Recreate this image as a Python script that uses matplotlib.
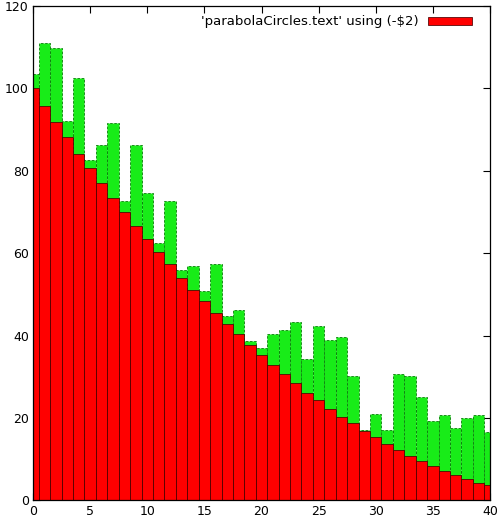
import numpy as np
import matplotlib
matplotlib.use("Agg")
import matplotlib.pyplot as plt

# values
positions = list(range(41))
red_vals = [100.0, 95.8, 91.8, 88.1, 84.2, 80.7, 77.0, 73.4, 70.1, 66.7,
            63.5, 60.2, 57.5, 54.1, 51.2, 48.3, 45.5, 42.8, 40.4, 37.8,
            35.3, 33.0, 30.7, 28.4, 26.2, 24.3, 22.3, 20.3, 18.7, 16.8,
            15.3, 13.7, 12.2, 10.8, 9.5, 8.4, 7.2, 6.1, 5.2, 4.3, 3.7]
green_vals = [103.4, 111.1, 109.8, 92.2, 102.5, 82.6, 86.3, 91.7, 72.7, 86.3,
              74.7, 62.5, 72.8, 55.9, 56.8, 50.9, 57.3, 44.7, 46.2, 38.8,
              37.0, 40.4, 41.3, 43.4, 34.3, 42.4, 38.9, 39.7, 30.2, 17.0,
              21.0, 17.1, 30.7, 30.2, 25.0, 19.4, 20.8, 17.7, 19.9, 20.8, 16.6]
legend_label = "'parabolaCircles.text' using (-$2)"

fig = plt.figure(figsize=(5.0, 5.22), dpi=100)
ax = fig.add_axes([0.066, 0.0412, 0.914, 0.9473])

ax.bar(positions, green_vals, width=1.0, color="#18ec18",
       edgecolor="#0a7a0a", linewidth=0.6, linestyle=(0, (3, 2)), zorder=2)
red = ax.bar(positions, red_vals, width=1.0, color="#ff0000",
             edgecolor="#4a0000", linewidth=0.55, zorder=3,
             label=legend_label)

ax.set_xlim(0, 40)
ax.set_ylim(0, 120)
ax.set_xticks(range(0, 41, 5))
ax.set_yticks(range(0, 121, 20))
ax.tick_params(direction="in", top=True, right=True, length=5, width=0.8,
               labelsize=9, pad=3)
for s in ax.spines.values():
    s.set_linewidth(0.9)
    s.set_zorder(5)

leg = ax.legend(handles=[red], loc="upper right", frameon=False,
                bbox_to_anchor=(0.972, 0.9915), borderaxespad=0.0,
                fontsize=9.5, handlelength=3.3, handleheight=0.6,
                handletextpad=0.75, markerfirst=False)

fig.savefig("out.png", dpi=100)
